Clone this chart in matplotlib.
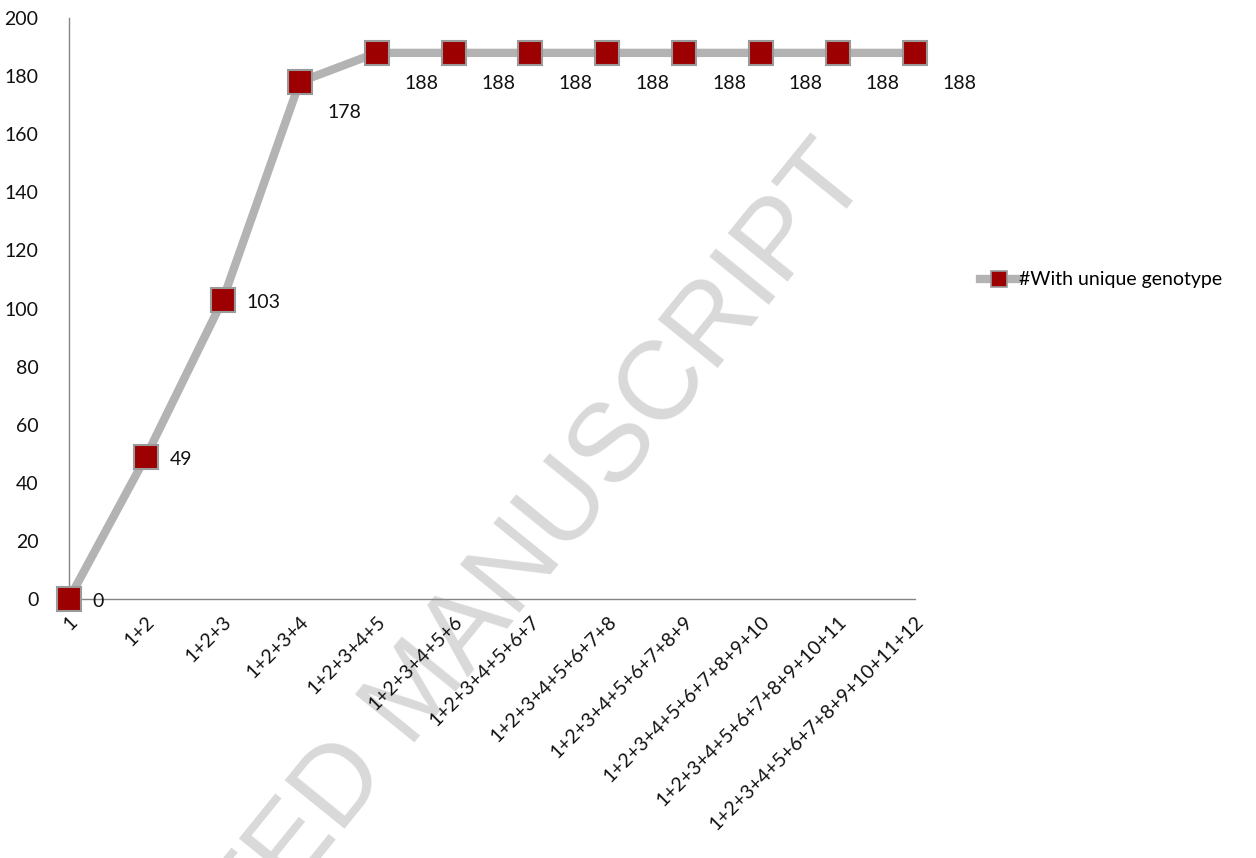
import matplotlib.pyplot as plt
from matplotlib.lines import Line2D

# cumulative combinations on the x axis
categories = ['1', '1+2', '1+2+3', '1+2+3+4', '1+2+3+4+5', '1+2+3+4+5+6',
              '1+2+3+4+5+6+7', '1+2+3+4+5+6+7+8', '1+2+3+4+5+6+7+8+9',
              '1+2+3+4+5+6+7+8+9+10', '1+2+3+4+5+6+7+8+9+10+11',
              '1+2+3+4+5+6+7+8+9+10+11+12']
unique_genotype = [0, 49, 103, 178, 188, 188, 188, 188, 188, 188, 188, 188]
series_name = '#With unique genotype'
y_ticks = [0, 20, 40, 60, 80, 100, 120, 140, 160, 180, 200]

plt.rcParams['font.family'] = ['Lato', 'DejaVu Sans']

fig = plt.figure(figsize=(12.56, 8.58), dpi=100)
ax = fig.add_axes([69 / 1256, 1 - 599 / 858, (915 - 69) / 1256, (599 - 18) / 858])
ax.set_zorder(2)
ax.patch.set_alpha(0)

x = list(range(len(categories)))
line_col = '#b3b3b3'
face_col = '#9c0000'
edge_col = '#9a9a9a'

ax.plot(x, unique_genotype, color=line_col, lw=6, marker='s', ms=17,
        mfc=face_col, mec=edge_col, mew=1.5, zorder=3, clip_on=False)

# data labels
for xi, v in zip(x, unique_genotype):
    if v >= 170:
        off = (20, -22)
    else:
        off = (17, -2)
    ax.annotate(str(v), (xi, v), xytext=off, textcoords='offset points',
                ha='left', va='center', fontsize=14, color='#111111')

ax.set_xlim(0, len(categories) - 1)
ax.set_ylim(0, 200)
ax.set_yticks(y_ticks)
ax.set_xticks(x)
ax.set_xticklabels(categories, rotation=45, ha='right', va='top',
                   rotation_mode='anchor', fontsize=14)
ax.tick_params(axis='both', length=0, labelsize=14, colors='#111111')
ax.tick_params(axis='x', pad=10)
ax.tick_params(axis='y', pad=22)

for s in ['top', 'right']:
    ax.spines[s].set_visible(False)
for s in ['left', 'bottom']:
    ax.spines[s].set_color('#868686')
    ax.spines[s].set_linewidth(1)

handle = Line2D([], [], color=line_col, lw=6, marker='s', ms=11,
                mfc=face_col, mec=edge_col, mew=1.2)
fig.legend([handle], [series_name], loc='center left',
           bbox_to_anchor=(962 / 1256, 1 - 280 / 858), frameon=False,
           fontsize=14, handlelength=2.0, handletextpad=0.05)

# watermark
fig.text(418 / 1256, 1 - 692 / 858, 'ACCEPTED MANUSCRIPT', fontsize=80,
         color='#d9d9d9', rotation=51, ha='center', va='center',
         family=['Liberation Sans', 'DejaVu Sans'], zorder=0)

fig.savefig('out.png', dpi=100)
